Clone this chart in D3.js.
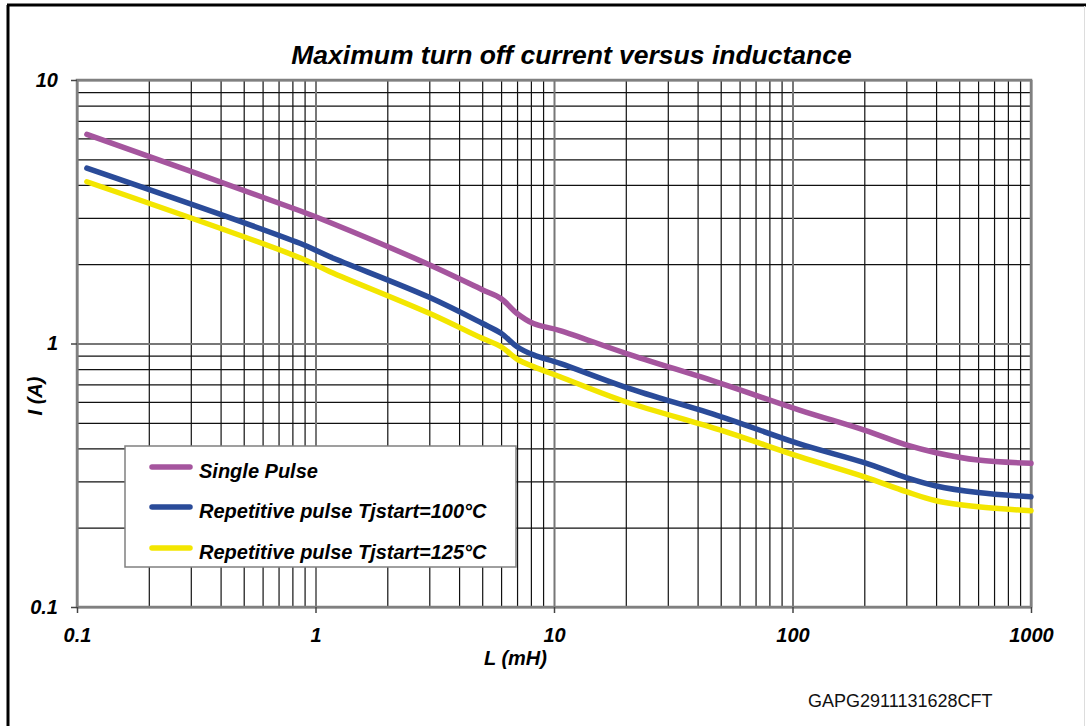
<!DOCTYPE html>
<html>
<head>
<meta charset="utf-8">
<script src="https://cdn.jsdelivr.net/npm/d3@7"></script>
<style>
  body { margin: 0; background: #fff; }
  svg { display: block; }
  text { font-family: "Liberation Sans", Arial, sans-serif; }
  .bi { font-weight: bold; font-style: italic; }
</style>
</head>
<body>
<svg id="chart" width="1086" height="726"></svg>
<script>
// values
var inductance = [0.11, 0.86, 1.15, 3, 5, 6, 7, 8.2, 10.6, 20, 50, 107, 200, 300, 400, 600, 1000];
var singlePulse = [6.22, 3.19, 2.88, 1.99, 1.6, 1.48, 1.3, 1.19, 1.12, 0.918, 0.706, 0.559, 0.469, 0.412, 0.385, 0.361, 0.351];
var rep100 = [4.63, 2.40, 2.135, 1.497, 1.193, 1.093, 0.972, 0.905, 0.841, 0.682, 0.528, 0.416, 0.353, 0.31, 0.288, 0.272, 0.262];
var rep125 = [4.11, 2.116, 1.873, 1.302, 1.046, 0.972, 0.873, 0.817, 0.748, 0.601, 0.469, 0.372, 0.312, 0.274, 0.253, 0.24, 0.232];

var seriesNames = ["Single Pulse", "Repetitive pulse Tjstart=100°C", "Repetitive pulse Tjstart=125°C"];
var seriesColors = ["#a5559e", "#2a4b99", "#f3e600"];
var xMajor = [0.1, 1, 10, 100, 1000];
var yMajor = [0.1, 1, 10];
var xLabels = ["0.1", "1", "10", "100", "1000"];
var yLabels = ["0.1", "1", "10"];

var svg = d3.select("#chart");
var pLeft = 77, pRight = 1031, pTop = 80, pBottom = 607;

var x = d3.scaleLog().domain([0.1, 1000]).range([pLeft, pRight]);
var y = d3.scaleLog().domain([0.1, 10]).range([pBottom, pTop]);

// outer frame
svg.append("line").attr("x1", 8).attr("y1", 5).attr("x2", 8).attr("y2", 726)
    .attr("stroke", "#000").attr("stroke-width", 3);
svg.append("line").attr("x1", 7).attr("y1", 5).attr("x2", 1086).attr("y2", 5)
    .attr("stroke", "#000").attr("stroke-width", 3);
svg.append("line").attr("x1", 1084.5).attr("y1", 6).attr("x2", 1084.5).attr("y2", 726)
    .attr("stroke", "#ddd").attr("stroke-width", 1);

// minor grid values (2..9 of every decade)
var xMinor = [], yMinor = [];
[0.1, 1, 10, 100].forEach(function(d){ for (var k = 2; k < 10; k++) xMinor.push(d * k); });
[0.1, 1].forEach(function(d){ for (var k = 2; k < 10; k++) yMinor.push(d * k); });

var h = pBottom - pTop, w = pRight - pLeft;

svg.append("g").attr("class", "grid")
    .attr("transform", "translate(0," + pBottom + ")")
    .call(d3.axisBottom(x).tickValues(xMinor).tickSize(-h).tickFormat(""))
    .call(function(g){ g.select(".domain").remove(); g.selectAll("line").attr("stroke", "#111").attr("stroke-width", 1.2); });

svg.append("g").attr("class", "grid")
    .attr("transform", "translate(" + pLeft + ",0)")
    .call(d3.axisLeft(y).tickValues(yMinor).tickSize(-w).tickFormat(""))
    .call(function(g){ g.select(".domain").remove(); g.selectAll("line").attr("stroke", "#111").attr("stroke-width", 1.2); });

svg.append("g").attr("class", "grid")
    .attr("transform", "translate(0," + pBottom + ")")
    .call(d3.axisBottom(x).tickValues(xMajor).tickSize(-h).tickFormat(""))
    .call(function(g){ g.select(".domain").remove(); g.selectAll("line").attr("stroke", "#777").attr("stroke-width", 2); });

svg.append("g").attr("class", "grid")
    .attr("transform", "translate(" + pLeft + ",0)")
    .call(d3.axisLeft(y).tickValues(yMajor).tickSize(-w).tickFormat(""))
    .call(function(g){ g.select(".domain").remove(); g.selectAll("line").attr("stroke", "#777").attr("stroke-width", 2); });

// plot border
svg.append("rect").attr("x", pLeft).attr("y", pTop).attr("width", w).attr("height", h)
    .attr("fill", "none").attr("stroke", "#808080").attr("stroke-width", 2.5);

// axes with labels
svg.append("g")
    .attr("transform", "translate(0," + pBottom + ")")
    .call(d3.axisBottom(x).tickValues(xMajor).tickSize(6).tickPadding(15)
        .tickFormat(function(d, i){ return xLabels[i]; }))
    .call(function(g){
        g.select(".domain").remove();
        g.selectAll("line").attr("stroke", "#444").attr("stroke-width", 1.5);
        g.selectAll("text").attr("class", "bi").attr("font-size", 20).attr("fill", "#000")
            .attr("font-family", "Liberation Sans, Arial, sans-serif");
    });

svg.append("g")
    .attr("transform", "translate(" + pLeft + ",0)")
    .call(d3.axisLeft(y).tickValues(yMajor).tickSize(6).tickPadding(13)
        .tickFormat(function(d, i){ return yLabels[i]; }))
    .call(function(g){
        g.select(".domain").remove();
        g.selectAll("line").attr("stroke", "#444").attr("stroke-width", 1.5);
        g.selectAll("text").attr("class", "bi").attr("font-size", 20).attr("fill", "#000")
            .attr("font-family", "Liberation Sans, Arial, sans-serif");
    });

// curves
var line = d3.line()
    .x(function(d){ return x(d[0]); })
    .y(function(d){ return y(d[1]); })
    .curve(d3.curveCatmullRom.alpha(0.5));

[singlePulse, rep100, rep125].forEach(function(vals, i){
    var pts = inductance.map(function(l, j){ return [l, vals[j]]; });
    svg.append("path").datum(pts)
        .attr("d", line)
        .attr("fill", "none")
        .attr("stroke", seriesColors[i])
        .attr("stroke-width", 5.5)
        .attr("stroke-linecap", "round")
        .attr("stroke-linejoin", "round");
});

// legend
var lg = svg.append("g");
lg.append("rect").attr("x", 125).attr("y", 446).attr("width", 391).attr("height", 121)
    .attr("fill", "#fff").attr("stroke", "#808080").attr("stroke-width", 1.5);
var legendY = [467, 507, 548];
seriesNames.forEach(function(name, i){
    lg.append("line").attr("x1", 152).attr("x2", 190)
        .attr("y1", legendY[i]).attr("y2", legendY[i])
        .attr("stroke", seriesColors[i]).attr("stroke-width", 5.5).attr("stroke-linecap", "round");
    lg.append("text").attr("class", "bi").attr("x", 199).attr("y", legendY[i] + 10.5)
        .attr("font-size", 20).text(name);
});

// titles
svg.append("text").attr("class", "bi").attr("x", 571.5).attr("y", 63.5)
    .attr("text-anchor", "middle").attr("font-size", 26.5)
    .text("Maximum turn off current versus inductance");
svg.append("text").attr("class", "bi").attr("x", 515.5).attr("y", 665)
    .attr("text-anchor", "middle").attr("font-size", 20).text("L (mH)");
svg.append("text").attr("class", "bi")
    .attr("transform", "translate(42,396) rotate(-90)")
    .attr("text-anchor", "middle").attr("font-size", 20).text("I (A)");
svg.append("text").attr("x", 808).attr("y", 706.5)
    .attr("font-size", 18).attr("fill", "#111").text("GAPG2911131628CFT");
</script>
</body>
</html>
